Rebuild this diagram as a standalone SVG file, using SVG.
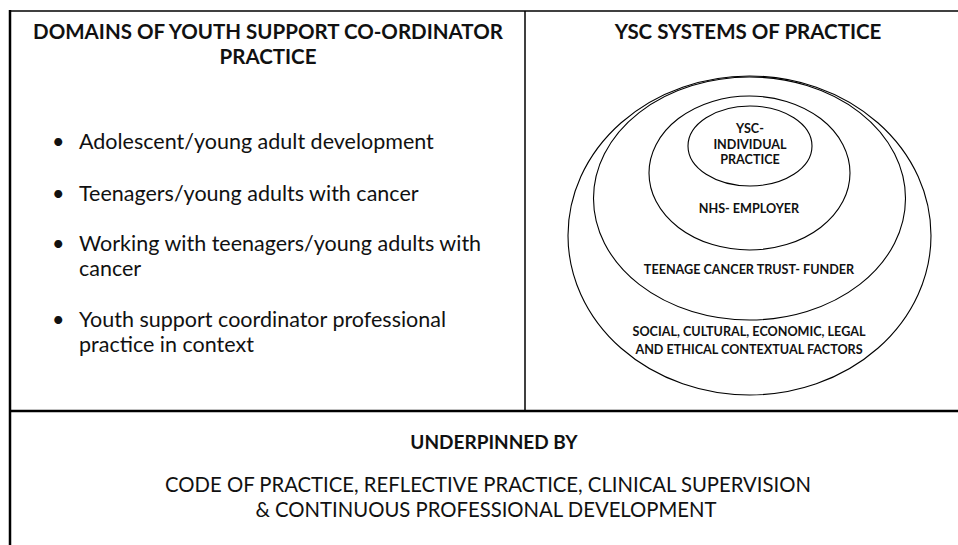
<svg xmlns="http://www.w3.org/2000/svg" width="958" height="545" viewBox="0 0 958 545">
  <style>
    .rule { stroke: #000; fill: none; }
    .ring { stroke: #000; stroke-width: 1.1; fill: none; }
    text { font-family: Lato, "Open Sans", "Liberation Sans", sans-serif; fill: #111; }
    .head { font-weight: bold; font-size: 20.5px; text-anchor: middle; }
    .item { font-size: 21.5px; }
    .tag { font-weight: bold; font-size: 12.6px; text-anchor: middle; }
    .sub { font-weight: bold; font-size: 19px; text-anchor: middle; }
    .base { font-size: 20.3px; text-anchor: middle; }
  </style>
  <rect width="958" height="545" fill="#fff"/>

  <!-- frame and panel dividers -->
  <g id="connectors">
    <line class="rule" x1="9" y1="11" x2="958" y2="11" stroke-width="1.5"/>
    <line class="rule" x1="10" y1="10" x2="10" y2="545" stroke-width="2.5"/>
    <line class="rule" x1="525" y1="11" x2="525" y2="411" stroke-width="1.5"/>
    <line class="rule" x1="10" y1="411" x2="958" y2="411" stroke-width="2.5"/>
  </g>

  <!-- left panel: domains -->
  <g id="domains">
    <text class="head" x="268" y="39">DOMAINS OF YOUTH SUPPORT CO-ORDINATOR</text>
    <text class="head" x="268" y="64">PRACTICE</text>
    <text class="item" x="52" y="149">•</text>
    <text class="item" x="79" y="149">Adolescent/young adult development</text>
    <text class="item" x="52" y="201">•</text>
    <text class="item" x="79" y="201">Teenagers/young adults with cancer</text>
    <text class="item" x="52" y="251">•</text>
    <text class="item" x="79" y="251">Working with teenagers/young adults with</text>
    <text class="item" x="79" y="276">cancer</text>
    <text class="item" x="52" y="327">•</text>
    <text class="item" x="79" y="327">Youth support coordinator professional</text>
    <text class="item" x="79" y="352">practice in context</text>
  </g>

  <!-- right panel: nested systems -->
  <g id="systems">
    <text class="head" x="748" y="39">YSC SYSTEMS OF PRACTICE</text>
  </g>
  <g id="context">
    <ellipse class="ring" cx="749.5" cy="235.5" rx="181.5" ry="159.5"/>
    <text class="tag" x="749" y="336">SOCIAL, CULTURAL, ECONOMIC, LEGAL</text>
    <text class="tag" x="749" y="354">AND ETHICAL CONTEXTUAL FACTORS</text>
  </g>
  <g id="funder">
    <ellipse class="ring" cx="749.5" cy="198.5" rx="156" ry="121.5"/>
    <text class="tag" x="749" y="274">TEENAGE CANCER TRUST- FUNDER</text>
  </g>
  <g id="employer">
    <ellipse class="ring" cx="749.5" cy="173" rx="100.5" ry="77"/>
    <text class="tag" x="749" y="213">NHS- EMPLOYER</text>
  </g>
  <g id="individual">
    <ellipse class="ring" cx="750" cy="146" rx="62" ry="40"/>
    <text class="tag" x="750" y="133">YSC-</text>
    <text class="tag" x="750" y="149">INDIVIDUAL</text>
    <text class="tag" x="750" y="164">PRACTICE</text>
  </g>

  <!-- bottom band -->
  <g id="underpinned">
    <text class="sub" x="494" y="449">UNDERPINNED BY</text>
    <text class="base" x="488" y="492">CODE OF PRACTICE, REFLECTIVE PRACTICE, CLINICAL SUPERVISION</text>
    <text class="base" x="486" y="517">&amp; CONTINUOUS PROFESSIONAL DEVELOPMENT</text>
  </g>
</svg>
